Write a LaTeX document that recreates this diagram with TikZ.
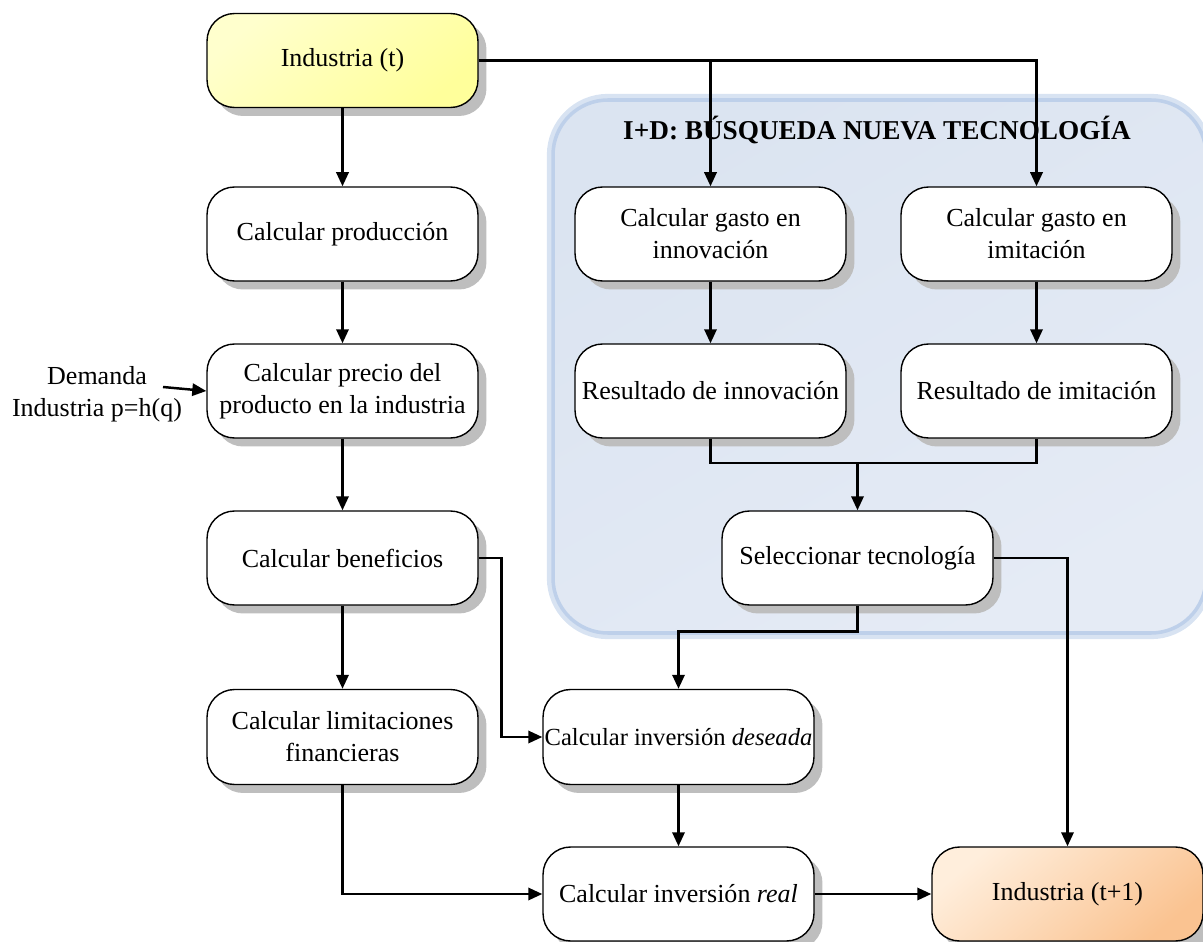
\documentclass[tikz,border=0pt]{standalone}
\usepackage{fontspec}
\setmainfont{Liberation Serif}
\usetikzlibrary{shadows,arrows.meta}

\definecolor{yellowA}{RGB}{255,255,205}
\definecolor{yellowB}{RGB}{255,255,155}
\definecolor{orangeA}{RGB}{255,238,220}
\definecolor{orangeB}{RGB}{250,195,145}
\definecolor{regionA}{RGB}{219,228,241}
\definecolor{regionB}{RGB}{229,235,245}
\definecolor{regionEdge}{RGB}{190,208,234}
\definecolor{shadowgray}{RGB}{190,190,190}

\begin{document}
\begin{tikzpicture}[x=0.02cm,y=-0.02cm,
  stepbox/.style={draw=black, line width=0.8pt, rounded corners=0.55cm,
    fill=white, minimum width=5.42cm, minimum height=1.88cm,
    inner sep=0pt, align=center, font=\fontsize{14.8}{18.2}\selectfont,
    drop shadow={shadow xshift=0.17cm, shadow yshift=-0.17cm,
      fill=shadowgray, opacity=1}},
  tallbox/.style={stepbox, minimum height=1.9cm},
  conn/.style={line width=1.4pt, -{Triangle[length=8pt,width=7pt]}},
  plain/.style={line width=1.4pt}]

\useasboundingbox (0,0) rectangle (1203,942);

% I+D region
\draw[line width=7pt, draw=regionEdge!60, rounded corners=1.1cm]
  (553,100) rectangle (1206,633);
\shade[top color=regionA, bottom color=regionB, shading angle=30,
  draw=regionEdge, line width=2pt, rounded corners=1.1cm]
  (553,100) rectangle (1206,633);
\node[font=\fontsize{15.5}{18}\selectfont\bfseries] (title) at (877,130)
  {I+D: BÚSQUEDA NUEVA TECNOLOGÍA};

% process steps
\node[stepbox, top color=yellowA, bottom color=yellowB, shading angle=40]
  (it) at (342.5,60.5) {Industria (t)};
\node[stepbox] (prod) at (342.5,234) {Calcular producción};
\node[stepbox] (precio) at (342.5,391) {Calcular precio del\\producto en la industria};
\node[stepbox] (benef) at (342.5,558) {Calcular beneficios};
\node[tallbox] (limit) at (342.5,737) {Calcular limitaciones\\financieras};
\node[stepbox] (ginn) at (710.5,234) {Calcular gasto en\\innovación};
\node[stepbox] (gimi) at (1036.5,234) {Calcular gasto en\\imitación};
\node[stepbox] (rinn) at (710.5,391) {Resultado de innovación};
\node[stepbox] (rimi) at (1036.5,391) {Resultado de imitación};
\node[stepbox] (sel) at (857.5,558) {Seleccionar tecnología};
\node[tallbox, font=\fontsize{14}{18.2}\selectfont] (des) at (678.5,737)
  {Calcular inversión \textit{deseada}};
\node[stepbox] (real) at (678.5,894) {Calcular inversión \textit{real}};
\node[stepbox, top color=orangeA, bottom color=orangeB, shading angle=40]
  (it1) at (1067.5,894) {Industria (t+1)};

% external input
\node[align=center, font=\fontsize{14.8}{18.2}\selectfont] (dem) at (97,394)
  {Demanda\\Industria p=h(q)};
\coordinate (demtail) at (163,387);

% connectors
\draw[conn] (it.south) -- (prod.north);
\draw[conn] (it.east) -| (gimi.north);
\draw[conn] (ginn.north |- it.east) -- (ginn.north);
\draw[conn] (prod.south) -- (precio.north);
\draw[conn] (precio.south) -- (benef.north);
\draw[conn] (benef.south) -- (limit.north);
\draw[conn] (demtail) -- (precio.west);
\draw[conn] (ginn.south) -- (rinn.north);
\draw[conn] (gimi.south) -- (rimi.north);
\coordinate (join) at (857.5,463);
\draw[plain] (rinn.south) |- (join) -| (rimi.south);
\draw[conn] (join) -- (sel.north);
\draw[conn] (sel.south) -- ++(0,26) -| (des.north);
\draw[conn] (sel.east) -| (it1.north);
\draw[conn] (benef.east) -- ++(23,0) |- (des.west);
\draw[conn] (des.south) -- (real.north);
\draw[conn] (limit.south) |- (real.west);
\draw[conn] (real.east) -- (it1.west);
\end{tikzpicture}
\end{document}
